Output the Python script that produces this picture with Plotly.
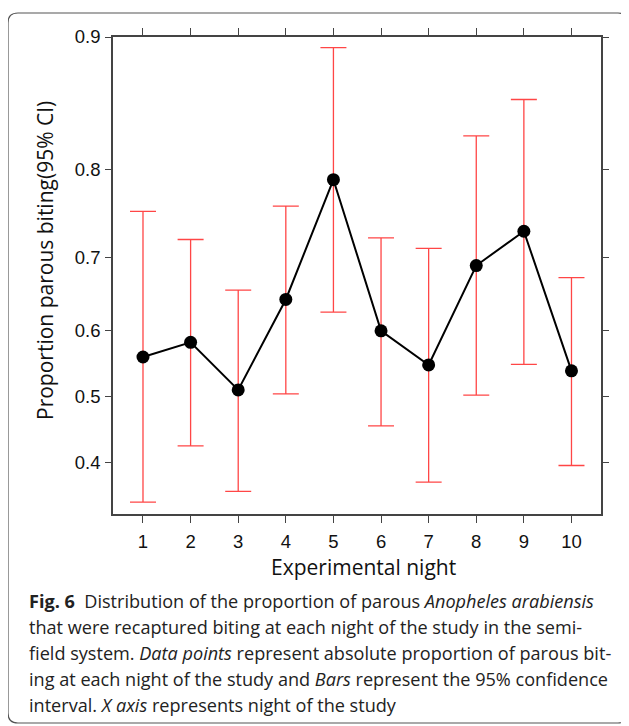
import numpy as np
import plotly.graph_objects as go

nights = [1, 2, 3, 4, 5, 6, 7, 8, 9, 10]
proportion = [0.560, 0.582, 0.510, 0.644, 0.790, 0.599, 0.548, 0.690, 0.733, 0.539]
ci_upper = [0.756, 0.723, 0.657, 0.762, 0.894, 0.725, 0.712, 0.831, 0.860, 0.674]
ci_lower = [0.344, 0.425, 0.359, 0.504, 0.626, 0.455, 0.372, 0.502, 0.549, 0.396]
y_ticks = [0.4, 0.5, 0.6, 0.7, 0.8, 0.9]
y_tick_labels = ["0.4", "0.5", "0.6", "0.7", "0.8", "0.9"]


def logit(p):
    p = np.asarray(p, dtype=float)
    return np.log(p / (1 - p))


ly = logit(proportion)
lu = logit(ci_upper)
ll = logit(ci_lower)

OFF = 8  # browser default body margin
W, H = 629 - OFF, 726 - OFF
L, R, T, B = 113 - OFF, 601 - OFF, 37 - OFF, 514 - OFF  # plot area (figure pixels)


def px(x):
    return (x - OFF - L) / (R - L)


def py(y):
    return (B - (y - OFF)) / (B - T)


fig = go.Figure()
fig.add_trace(go.Scatter(
    x=nights, y=ly, mode="lines+markers",
    line=dict(color="black", width=2),
    marker=dict(color="black", size=13),
    error_y=dict(type="data", symmetric=False, array=lu - ly, arrayminus=ly - ll,
                 color="rgb(255,70,70)", thickness=1.3, width=13),
    showlegend=False,
))

fig.update_layout(
    width=W, height=H,
    margin=dict(l=L, r=W - R, t=T, b=H - B, pad=0),
    paper_bgcolor="white", plot_bgcolor="white",
    font=dict(family="Liberation Sans, Arial", color="#111"),
)
tickfont = dict(size=18.5, family="Liberation Sans, Arial", color="#111")
fig.update_xaxes(
    range=[0.37, 10.62], tickmode="array", tickvals=nights,
    ticktext=[str(n) for n in nights],
    showgrid=False, zeroline=False, showline=True, mirror="ticks",
    linecolor="#444", linewidth=1.5, ticks="outside", ticklen=7, tickwidth=1.2,
    tickcolor="#444", tickfont=tickfont, ticklabelstandoff=3,
)
fig.update_yaxes(
    range=[float(logit(0.3277)), float(logit(0.9))], tickmode="array",
    tickvals=logit(y_ticks), ticktext=y_tick_labels,
    showgrid=False, zeroline=False, showline=True, mirror="ticks",
    linecolor="#444", linewidth=1.5, ticks="outside", ticklen=6, tickwidth=1.2,
    tickcolor="#444", tickfont=tickfont, ticklabelstandoff=1,
)

# Axis titles
fig.add_annotation(text="Proportion parous biting(95% CI)", textangle=-90,
                   x=px(45), y=py(261), xref="paper", yref="paper",
                   xanchor="center", yanchor="middle",
                   showarrow=False, font=dict(size=21, family="Open Sans", color="#111"))
fig.add_annotation(text="Experimental night",
                   x=px(363), y=py(567), xref="paper", yref="paper",
                   xanchor="center", yanchor="middle",
                   showarrow=False, font=dict(size=21, family="Open Sans", color="#111"))

# Caption
caption_lines = [
    "<b>Fig. 6</b>  Distribution of the proportion of parous <i>Anopheles arabiensis</i>",
    "that were recaptured biting at each night of the study in the semi-",
    "field system. <i>Data points</i> represent absolute proportion of parous bit-",
    "ing at each night of the study and <i>Bars</i> represent the 95% confidence",
    "interval. <i>X axis</i> represents night of the study",
]
for i, line in enumerate(caption_lines):
    fig.add_annotation(text=line, x=0, xshift=(27 - OFF) - L, y=py(601 + i * 25.9),
                       xref="paper", yref="paper",
                       xanchor="left", yanchor="middle", showarrow=False,
                       font=dict(size=18.1, family="Open Sans", color="#222"))

# Rounded border of the figure card
x0, y0, x1, y1, r = 8, 13, 628, 723, 10
path = (f"M {px(x0 + r)},{py(y0)} L {px(x1 - r)},{py(y0)} "
        f"Q {px(x1)},{py(y0)} {px(x1)},{py(y0 + r)} "
        f"L {px(x1)},{py(y1 - r)} Q {px(x1)},{py(y1)} {px(x1 - r)},{py(y1)} "
        f"L {px(x0 + r)},{py(y1)} Q {px(x0)},{py(y1)} {px(x0)},{py(y1 - r)} "
        f"L {px(x0)},{py(y0 + r)} Q {px(x0)},{py(y0)} {px(x0 + r)},{py(y0)} Z")
fig.add_shape(type="path", path=path, xref="paper", yref="paper",
              line=dict(color="#555", width=1.2), layer="below")

fig.write_html("out.html")
